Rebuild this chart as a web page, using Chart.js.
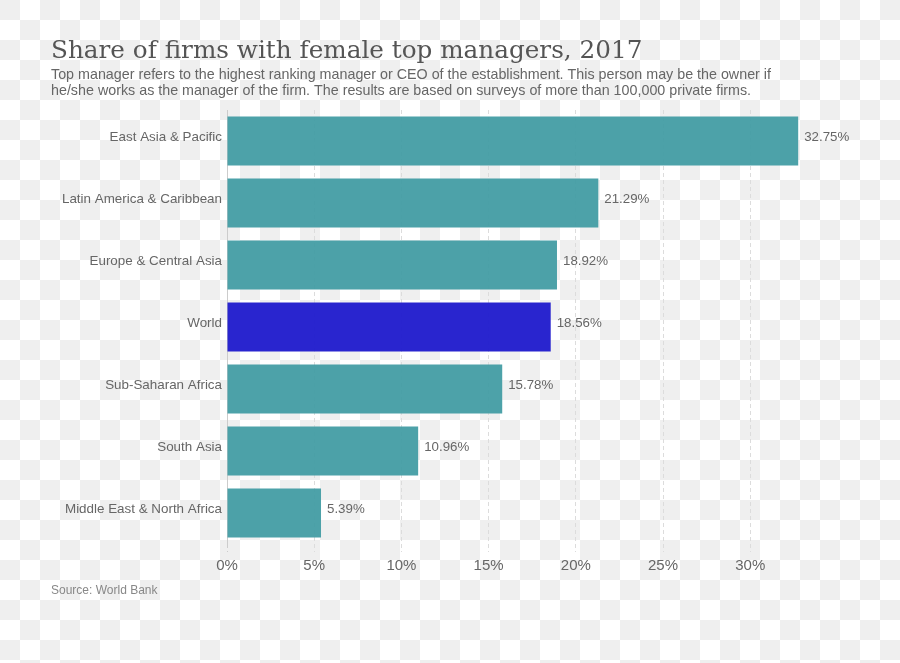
<!DOCTYPE html>
<html>
<head>
<meta charset="utf-8">
<script src="https://cdn.jsdelivr.net/npm/chart.js@4"></script>
<style>
html,body{margin:0;padding:0;}
body{width:900px;height:663px;overflow:hidden;
background-color:#ffffff;
background-image:
 linear-gradient(45deg,#efefef 25%,transparent 25%,transparent 75%,#efefef 75%),
 linear-gradient(45deg,#efefef 25%,transparent 25%,transparent 75%,#efefef 75%);
background-size:40px 40px;background-position:20px 0,0 20px;}
#wrap{position:absolute;left:0;top:0;width:900px;height:663px;}
</style>
</head>
<body>
<div id="wrap"><canvas id="c" width="900" height="663"></canvas></div>
<script>
const titleText = "Share of firms with female top managers, 2017";
const subtitleLines = [
 "Top manager refers to the highest ranking manager or CEO of the establishment. This person may be the owner if",
 "he/she works as the manager of the firm. The results are based on surveys of more than 100,000 private firms."
];
const sourceText = "Source: World Bank";
const categories = ["East Asia & Pacific","Latin America & Caribbean","Europe & Central Asia","World","Sub-Saharan Africa","South Asia","Middle East & North Africa"];
const shares = [32.75,21.29,18.92,18.56,15.78,10.96,5.39];
const tickValues = [0,5,10,15,20,25,30];

const teal = "rgba(64,155,163,0.93)";
const blue = "rgba(30,25,204,0.95)";
const barColors = categories.map(c => c === "World" ? blue : teal);

const textPlugin = {
  id: 'texts',
  afterDraw(chart) {
    const ctx = chart.ctx;
    ctx.save();
    ctx.textAlign = 'left';
    ctx.textBaseline = 'alphabetic';
    ctx.fillStyle = '#555555';
    ctx.font = '24.7px "DejaVu Serif"';
    ctx.fillText(titleText, 51, 58);
    ctx.fillStyle = '#666666';
    ctx.font = '14.3px "Liberation Sans"';
    ctx.fillText(subtitleLines[0], 51, 79);
    ctx.fillText(subtitleLines[1], 51, 95);
    ctx.fillStyle = '#888888';
    ctx.font = '12px "Liberation Sans"';
    ctx.fillText(sourceText, 51, 594);
    // value labels
    const meta = chart.getDatasetMeta(0);
    ctx.fillStyle = '#666666';
    ctx.font = '13.3px "Liberation Sans"';
    ctx.textBaseline = 'middle';
    meta.data.forEach((bar, i) => {
      ctx.fillText(shares[i].toFixed(2) + '%', bar.x + 6, bar.y - 4);
    });
    ctx.restore();
  }
};

new Chart(document.getElementById('c'), {
  type: 'bar',
  data: {
    labels: categories,
    datasets: [{
      data: shares,
      backgroundColor: barColors,
      borderWidth: 0,
      barPercentage: 0.79,
      categoryPercentage: 1.0
    }]
  },
  options: {
    indexAxis: 'y',
    responsive: false,
    animation: false,
    devicePixelRatio: 1,
    layout: { padding: { top: 110, right: 80, bottom: 0, left: 0 } },
    plugins: { legend: { display: false }, tooltip: { enabled: false }, title: { display: false } },
    scales: {
      x: {
        min: 0, max: 34,
        afterBuildTicks(scale) { scale.ticks = tickValues.map(v => ({ value: v })); },
        afterFit(scale) { scale.height = 119; },
        ticks: {
          callback: v => v + '%',
          color: '#666666',
          font: { family: 'Liberation Sans', size: 15 },
          padding: 5,
          maxRotation: 0
        },
        grid: {
          color: ctx => (ctx.tick && ctx.tick.value === 0) ? 'rgba(0,0,0,0)' : '#dcdcdc',
          tickColor: ctx => (ctx.tick && ctx.tick.value === 0) ? '#cccccc' : '#dcdcdc',
          lineWidth: 1,
          tickLength: 8,
          tickBorderDash: [4, 3]
        },
        border: { display: false, dash: [4, 3] }
      },
      y: {
        afterFit(scale) { scale.width = 227; },
        ticks: {
          color: '#666666',
          font: { family: 'Liberation Sans', size: 13.4 },
          padding: 5,
          labelOffset: -4
        },
        grid: { display: false, drawTicks: false },
        border: { display: true, color: '#cccccc', width: 1 }
      }
    }
  },
  plugins: [textPlugin]
});
</script>
</body>
</html>
